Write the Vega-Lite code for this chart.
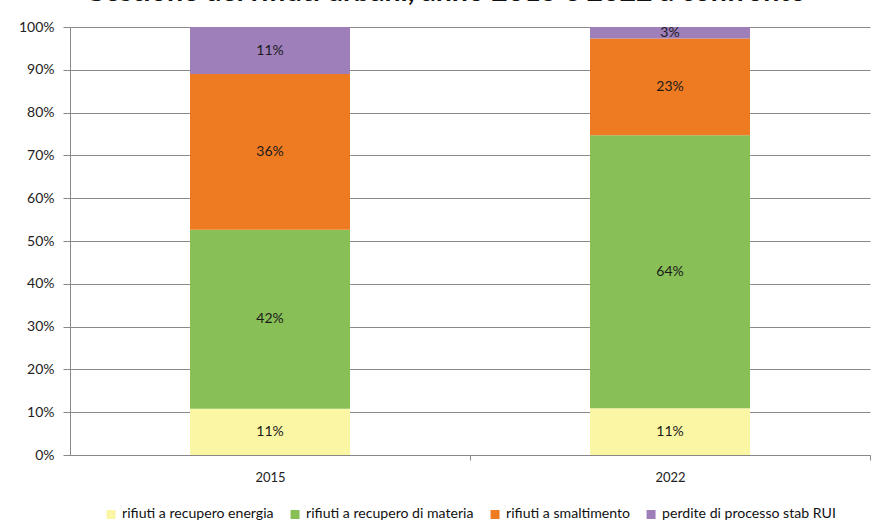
{
  "$schema": "https://vega.github.io/schema/vega-lite/v6.json",
  "width": 800,
  "height": 428,
  "autosize": {"type": "none"},
  "padding": {"left": 70, "top": 27, "right": 10, "bottom": 73},
  "background": "white",
  "title": {
    "text": "Gestione dei rifiuti urbani, anno 2015 e 2022 a confronto",
    "font": "Lato",
    "fontSize": 28.5,
    "fontWeight": "bold",
    "color": "#111",
    "anchor": "middle",
    "dx": -25,
    "offset": -15,
    "baseline": "bottom"
  },
  "data": {
    "values": [
      {"anno": "2015", "cat": "rifiuti a recupero energia", "ord": 1, "val": 0.108},
      {"anno": "2015", "cat": "rifiuti a recupero di materia", "ord": 2, "val": 0.418},
      {"anno": "2015", "cat": "rifiuti a smaltimento", "ord": 3, "val": 0.364},
      {"anno": "2015", "cat": "perdite di processo stab RUI", "ord": 4, "val": 0.110},
      {"anno": "2022", "cat": "rifiuti a recupero energia", "ord": 1, "val": 0.109},
      {"anno": "2022", "cat": "rifiuti a recupero di materia", "ord": 2, "val": 0.638},
      {"anno": "2022", "cat": "rifiuti a smaltimento", "ord": 3, "val": 0.226},
      {"anno": "2022", "cat": "perdite di processo stab RUI", "ord": 4, "val": 0.027}
    ]
  },
  "encoding": {
    "x": {
      "field": "anno",
      "type": "nominal",
      "scale": {"paddingInner": 0.6, "paddingOuter": 0.3},
      "axis": {
        "title": null,
        "labelAngle": 0,
        "labelFont": "Lato",
        "labelFontSize": 13,
        "labelColor": "#222",
        "labelPadding": 11,
        "domainColor": "#888",
        "tickColor": "#888",
        "tickSize": 5,
        "tickOffset": 200,
        "labelOffset": -200
      }
    },
    "order": {"field": "ord", "type": "quantitative"}
  },
  "layer": [
    {
      "mark": {"type": "bar"},
      "encoding": {
        "y": {
          "field": "val",
          "type": "quantitative",
          "stack": "zero",
          "scale": {"domain": [0, 1]},
          "axis": {
            "title": null,
            "format": ".0%",
            "values": [0, 0.1, 0.2, 0.3, 0.4, 0.5, 0.6, 0.7, 0.8, 0.9, 1],
            "labelFont": "Lato",
            "labelFontSize": 14,
            "labelColor": "#222",
            "labelPadding": 9,
            "labelOverlap": false,
            "domainColor": "#888",
            "tickColor": "#888",
            "tickSize": 7,
            "gridColor": "#8a8a8a",
            "gridWidth": 1
          }
        },
        "color": {
          "field": "cat",
          "type": "nominal",
          "sort": ["rifiuti a recupero energia", "rifiuti a recupero di materia", "rifiuti a smaltimento", "perdite di processo stab RUI"],
          "scale": {
            "domain": ["rifiuti a recupero energia", "rifiuti a recupero di materia", "rifiuti a smaltimento", "perdite di processo stab RUI"],
            "range": ["#FAF6A3", "#88C057", "#EE7A22", "#9E7FBA"]
          },
          "legend": {
            "title": null,
            "orient": "none",
            "legendX": 34,
            "legendY": 480,
            "direction": "horizontal",
            "symbolType": "square",
            "symbolSize": 81,
            "symbolStrokeWidth": 0,
            "labelFont": "Lato",
            "labelFontSize": 14.1,
            "labelColor": "#111",
            "labelLimit": 300,
            "labelOffset": 4,
            "columnPadding": 14
          }
        }
      }
    },
    {
      "mark": {"type": "text", "font": "Lato", "fontSize": 14, "color": "#1a1a1a", "baseline": "middle"},
      "encoding": {
        "y": {
          "field": "val",
          "type": "quantitative",
          "stack": "zero",
          "bandPosition": 0.5,
          "scale": {"domain": [0, 1]},
          "axis": {
            "title": null,
            "format": ".0%",
            "values": [0, 0.1, 0.2, 0.3, 0.4, 0.5, 0.6, 0.7, 0.8, 0.9, 1],
            "labelFont": "Lato",
            "labelFontSize": 14,
            "labelColor": "#222",
            "labelPadding": 9,
            "labelOverlap": false,
            "domainColor": "#888",
            "tickColor": "#888",
            "tickSize": 7,
            "gridColor": "#8a8a8a",
            "gridWidth": 1
          }
        },
        "text": {"field": "val", "type": "quantitative", "format": ".0%"}
      }
    }
  ],
  "config": {
    "view": {"stroke": null}
  }
}
